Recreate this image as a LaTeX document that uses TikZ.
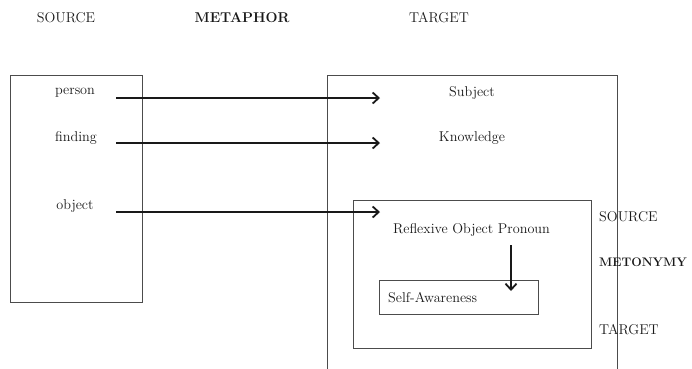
\documentclass[tikz,border=0pt]{standalone}
\usetikzlibrary{arrows.meta}
\begin{document}
\begin{tikzpicture}[x=1pt,y=-1pt,
  lbl/.style={inner sep=0pt,font=\fontsize{14.2}{16}\selectfont,text=black!90},
  head/.style={lbl,font=\fontsize{14.2}{16}\selectfont\bfseries},
  frame/.style={draw=black!70,line width=0.9pt,inner sep=0pt},
  maparrow/.style={draw=black!90,line width=2.2pt,-{Straight Barb[length=6pt,width=11pt,line width=1.8pt]}}]
\useasboundingbox (0,0) rectangle (692,368);
\clip (0,0) rectangle (692,368);

% column headings
\node[lbl]  (srchead) at (66,18)  {SOURCE};
\node[head] (methead) at (242,18) {METAPHOR};
\node[lbl]  (tgthead) at (439,18) {TARGET};

% source domain
\node[frame,minimum width=132,minimum height=227] (srcbox) at (76,188.5) {};
\node[lbl] (person)  at (75,93)  {person};
\node[lbl] (finding) at (76,138) {finding};
\node[lbl] (object)  at (75,206) {object};

% target domain (runs past the lower edge)
\node[frame,minimum width=290,minimum height=320] (tgtbox) at (472,235) {};
\node[lbl] (subject)   at (472,92.5)  {Subject};
\node[lbl] (knowledge) at (472,138) {Knowledge};

% metonymy frame
\node[frame,minimum width=238,minimum height=148] (metbox) at (472,274) {};
\node[lbl] (pronoun) at (471.5,229.5) {Reflexive Object Pronoun};
\node[frame,minimum width=159,minimum height=34] (selfbox) at (458.5,297) {};
\node[lbl,anchor=west] (self) at (388,297.5) {Self-Awareness};

\node[lbl,anchor=west]  (msrc) at (599,216.5) {SOURCE};
\node[head,anchor=west,font=\fontsize{12.4}{14}\selectfont\bfseries] (mhead) at (599,262) {METONYMY};
\node[lbl,anchor=west]  (mtgt) at (599,329.5) {TARGET};

% mappings
\coordinate (p0) at (116,98);  \coordinate (p1) at (380,98);
\coordinate (f0) at (116,143); \coordinate (f1) at (380,143);
\coordinate (o0) at (116,212); \coordinate (o1) at (380,212);
\draw[maparrow] (p0) -- (p1);
\draw[maparrow] (f0) -- (f1);
\draw[maparrow] (o0) -- (o1);
\coordinate (d0) at (511,245);
\coordinate (d1) at (511,291);
\draw[maparrow] (d0) -- (d1);
\end{tikzpicture}
\end{document}
